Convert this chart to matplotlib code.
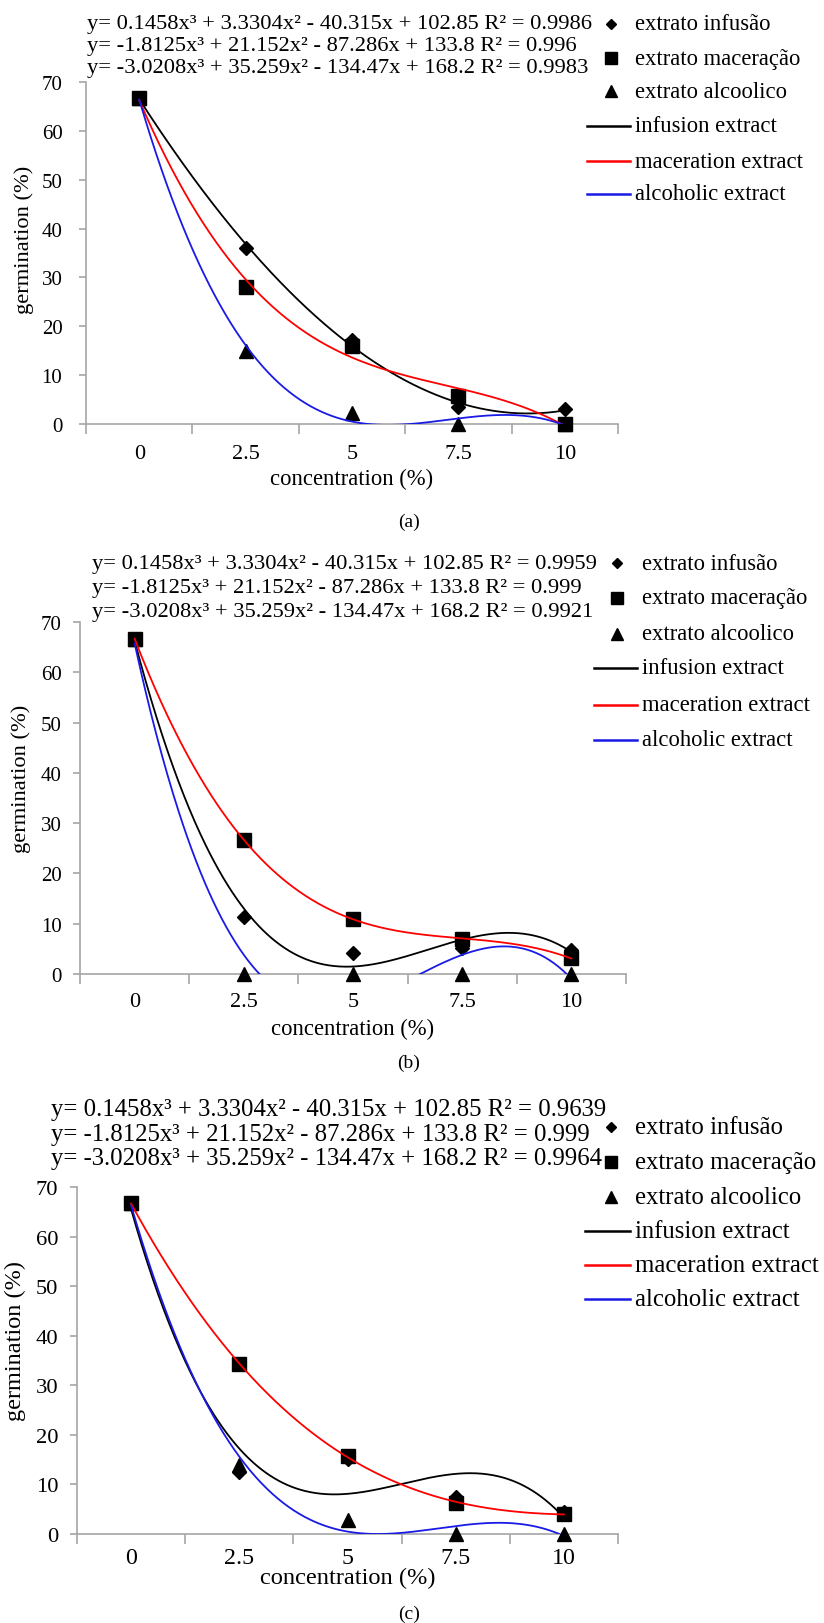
import numpy as np
import matplotlib
matplotlib.use("Agg")
import matplotlib.pyplot as plt
from matplotlib.lines import Line2D

plt.rcParams['font.family'] = ['Liberation Serif', 'DejaVu Serif']

W, H = 824, 1624

# ---------------- data ----------------
conc = [0, 2.5, 5, 7.5, 10]
conc_labels = ['0', '2.5', '5', '7.5', '10']
y_ticks = [0, 10, 20, 30, 40, 50, 60, 70]

infusion_a = [66.7, 36.0, 17.2, 3.5, 3.0]
maceration_a = [66.7, 28.0, 16.0, 5.7, 0.0]
alcoholic_a = [66.7, 15.0, 2.2, 0.0, 0.0]

infusion_b = [66.7, 11.3, 4.1, 5.1, 4.8]
maceration_b = [66.7, 26.6, 11.0, 7.0, 3.1]
alcoholic_b = [66.7, 0.0, 0.0, 0.0, 0.0]

infusion_c = [66.7, 12.5, 15.2, 7.4, 4.5]
maceration_c = [66.7, 34.2, 15.8, 6.3, 4.0]
alcoholic_c = [66.7, 14.0, 2.9, 0.0, 0.0]

eq_infusion = "y= 0.1458x³ + 3.3304x² - 40.315x + 102.85"
eq_maceration = "y= -1.8125x³ + 21.152x² - 87.286x + 133.8"
eq_alcoholic = "y= -3.0208x³ + 35.259x² - 134.47x + 168.2"

r2_a = ["0.9986", "0.996", "0.9983"]
r2_b = ["0.9959", "0.999", "0.9921"]
r2_c = ["0.9639", "0.999", "0.9964"]

legend_labels = ["extrato infusão", "extrato maceração", "extrato alcoolico",
                 "infusion extract", "maceration extract", "alcoholic extract"]
captions = ["(a)", "(b)", "(c)"]

series_colors = ['#000000', '#ff0000', '#1a1ae6']
series_markers = ['D', 's', '^']
marker_sizes = [6.8, 10, 10]
legend_marker_sizes = [5.2, 8, 8]

# ---------------- layout (pixels) ----------------
panels = [
    dict(inf=infusion_a, mac=maceration_a, alc=alcoholic_a, r2=r2_a, cap=captions[0],
         left=86, right=618, top=83, bottom=425, k_tick=1.0, k_eq=1.0, k_leg=1.0, ypad=12,
         eq_x=87, eq_y=[24, 47, 69],
         leg_mx=611, leg_l=(587, 630), leg_tx=635, leg_y=[25, 59, 92, 127, 162, 195],
         xt_y=455, xl_y=479, yl_x=24, yl_y=240, cap_xy=(409, 522)),
    dict(inf=infusion_b, mac=maceration_b, alc=alcoholic_b, r2=r2_b, cap=captions[1],
         left=80, right=626, top=623, bottom=975, k_tick=1.0, k_eq=1.0, k_leg=1.0, ypad=8,
         eq_x=92, eq_y=[565, 589, 613],
         leg_mx=617, leg_l=(594, 637), leg_tx=642, leg_y=[564, 599, 635, 669, 706, 741],
         xt_y=1003, xl_y=1029, yl_x=21, yl_y=779, cap_xy=(409, 1063)),
    dict(inf=infusion_c, mac=maceration_c, alc=alcoholic_c, r2=r2_c, cap=captions[2],
         left=77, right=618, top=1188, bottom=1535, k_tick=1.08, k_eq=1.10, k_leg=1.095, ypad=8.6,
         eq_x=51, eq_y=[1110, 1135, 1159],
         leg_mx=611, leg_l=(585, 630), leg_tx=635, leg_y=[1128, 1163, 1198, 1232, 1266, 1300],
         xt_y=1558, xl_y=1578, yl_x=15, yl_y=1341, cap_xy=(409, 1614)),
]

FS_YTICK = 15
FS_XTICK = 16
FS_EQ = 16.2
FS_LEG = 16.3
FS_XLAB = 16.3
FS_YLAB = 16.2
FS_CAP = 14
GRAY = '#a6a6a6'

fig = plt.figure(figsize=(W / 100, H / 100), dpi=100)


def fx(x):
    return x / W


def fy(y):
    return 1 - y / H


xfine = np.linspace(0, 10, 400)

for p in panels:
    k = p['k_tick']
    ax = fig.add_axes([fx(p['left']), fy(p['bottom']),
                       (p['right'] - p['left']) / W, (p['bottom'] - p['top']) / H])
    ax.set_xlim(-1.25, 11.25)
    ax.set_ylim(0, 70)
    for s in ['top', 'right']:
        ax.spines[s].set_visible(False)
    for s in ['left', 'bottom']:
        ax.spines[s].set_color(GRAY)
        ax.spines[s].set_linewidth(1.2)
    ax.patch.set_alpha(0)

    # y ticks
    ax.set_yticks(y_ticks)
    ax.set_yticklabels([str(v) for v in y_ticks])
    ax.tick_params(axis='y', direction='out', length=5, width=1.2, color=GRAY,
                   labelsize=FS_YTICK * k, pad=p['ypad'])
    # x: tick marks at category boundaries, labels at category centers
    ax.set_xticks([-1.25, 1.25, 3.75, 6.25, 8.75, 11.25])
    ax.set_xticklabels([])
    ax.tick_params(axis='x', which='major', direction='out', length=7, width=1.2, color=GRAY)
    ax.set_xticks(conc, minor=True)
    ax.set_xticklabels(conc_labels, minor=True)
    pad_pts = (p['xt_y'] - p['bottom'] - 10) * 0.72
    ax.tick_params(axis='x', which='minor', length=0, labelsize=FS_XTICK * k, pad=pad_pts)

    data = [p['inf'], p['mac'], p['alc']]
    # points
    for vals, mk, ms in zip(data, series_markers, marker_sizes):
        ax.plot(conc, vals, ls='none', marker=mk, ms=ms, color='black', clip_on=False, zorder=3)
    # cubic trend lines (polynomial fit of each series)
    for vals, col in zip(data, series_colors):
        coef = np.polyfit(conc, vals, 3)
        ax.plot(xfine, np.polyval(coef, xfine), color=col, lw=1.3, zorder=4)

    # equations
    eqs = [eq_infusion, eq_maceration, eq_alcoholic]
    for eq, r2, yy in zip(eqs, p['r2'], p['eq_y']):
        fig.text(fx(p['eq_x']), fy(yy), f"{eq} R² = {r2}", ha='left', va='center',
                 fontsize=FS_EQ * p['k_eq'])

    # legend (manual)
    for i, lab in enumerate(legend_labels):
        yy = fy(p['leg_y'][i])
        if i < 3:
            fig.add_artist(Line2D([fx(p['leg_mx'])], [yy], transform=fig.transFigure,
                                  ls='none', marker=series_markers[i],
                                  ms=legend_marker_sizes[i], color='black'))
        else:
            fig.add_artist(Line2D([fx(p['leg_l'][0]), fx(p['leg_l'][1])], [yy, yy],
                                  transform=fig.transFigure,
                                  color=series_colors[i - 3], lw=1.8))
        fig.text(fx(p['leg_tx']), yy, lab, ha='left', va='center',
                 fontsize=FS_LEG * p['k_leg'])

    # axis labels
    fig.text(fx((p['left'] + p['right']) / 2), fy(p['xl_y']), "concentration (%)",
             ha='center', va='center', fontsize=FS_XLAB * k)
    fig.text(fx(p['yl_x']), fy(p['yl_y']), "germination (%)", rotation=90,
             ha='center', va='center', fontsize=FS_YLAB * k)
    # caption
    fig.text(fx(p['cap_xy'][0]), fy(p['cap_xy'][1]), p['cap'], ha='center', va='center',
             fontsize=FS_CAP)

fig.savefig("out.png", dpi=100)
